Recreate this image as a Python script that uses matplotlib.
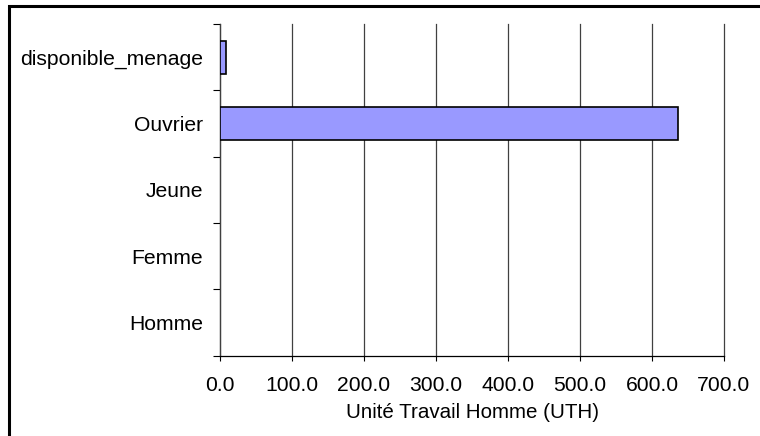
import numpy as np
import matplotlib
matplotlib.use("Agg")
import matplotlib.pyplot as plt
from matplotlib.patches import Rectangle
from matplotlib.ticker import FormatStrFormatter

plt.rcParams['font.family'] = ['Liberation Sans', 'DejaVu Sans']

# Données (de bas en haut)
categories = ['Homme', 'Femme', 'Jeune', 'Ouvrier', 'disponible_menage']
valeurs = [0.0, 0.0, 0.0, 636.0, 8.0]
x_ticks = [0, 100, 200, 300, 400, 500, 600, 700]

fig = plt.figure(figsize=(7.6, 4.36), dpi=100)
ax = fig.add_axes([220 / 760, 1 - 355.7 / 436, 504 / 760, (355.7 - 24) / 436])

pos = np.arange(len(categories))
edges = ['black' if v > 0 else 'none' for v in valeurs]
ax.barh(pos, valeurs, height=0.5, color='#9999FF', edgecolor=edges,
        linewidth=1.2, zorder=3)

ax.set_xlim(0, 700)
ax.set_ylim(-0.5, len(categories) - 0.5)
ax.set_xticks(x_ticks)
ax.xaxis.set_major_formatter(FormatStrFormatter('%.1f'))
ax.grid(axis='x', color='#404040', linewidth=0.9, zorder=1)
for gl in ax.get_xgridlines():
    gl.set_clip_on(False)

# graduations aux limites des catégories, étiquettes au centre
ax.set_yticks(np.arange(-0.5, len(categories), 1.0))
ax.set_yticklabels([])
ax.set_yticks(pos, minor=True)
ax.set_yticklabels(categories, minor=True)
ax.tick_params(axis='y', which='major', length=5, width=0.8, direction='out')
ax.tick_params(axis='y', which='minor', length=0, pad=12, labelsize=15.2)
ax.tick_params(axis='x', length=3.5, width=0.8, pad=11, labelsize=15.2)

for s in ['top', 'right']:
    ax.spines[s].set_visible(False)
ax.spines['left'].set_color('#404040')
ax.spines['left'].set_linewidth(0.9)
ax.spines['bottom'].set_linewidth(0.9)

ax.set_xlabel('Unité Travail Homme (UTH)', fontsize=14.8, labelpad=6)

# cadre du graphique
fig.patches.append(Rectangle((9 / 760, -0.05), 1.0, 1.05 - 6 / 436,
                             transform=fig.transFigure, fill=False,
                             edgecolor='black', linewidth=2.2))

fig.savefig('out.png', dpi=100)
